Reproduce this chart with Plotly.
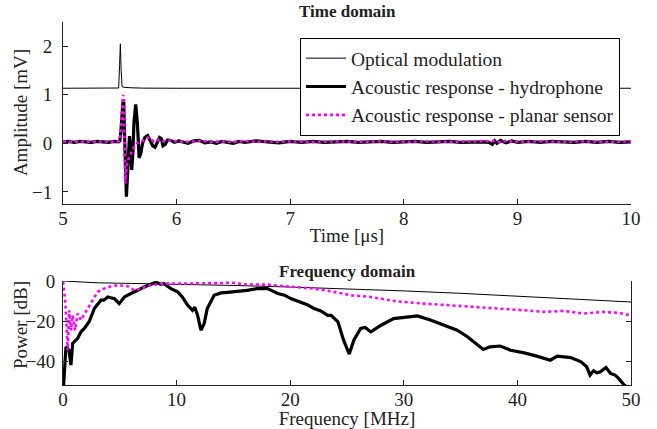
import plotly.graph_objects as go

# ---------------- Time domain data ----------------
t_optical = [5.0, 5.3, 5.48, 5.49, 5.498, 5.505, 5.512, 5.52, 5.535, 5.56, 5.6, 5.7, 6.0, 8.0, 10.0]
a_optical = [1.135, 1.135, 1.135, 1.14, 1.6, 2.05, 1.5, 1.17, 1.155, 1.15, 1.145, 1.138, 1.135, 1.135, 1.135]

t_hydro = [5.00, 5.05, 5.10, 5.15, 5.20, 5.25, 5.30, 5.35, 5.40, 5.45, 5.49,
           5.50, 5.51, 5.52, 5.53, 5.535, 5.54, 5.55, 5.558, 5.567, 5.575, 5.585,
           5.595, 5.605, 5.615, 5.625, 5.64, 5.655, 5.67, 5.685, 5.70, 5.72, 5.745,
           5.77, 5.79, 5.81, 5.83, 5.85, 5.865, 5.88, 5.90, 5.92, 5.95, 5.98, 6.02,
           6.06, 6.10, 6.15, 6.20, 6.25, 6.30, 6.35, 6.40, 6.45, 6.50, 6.55, 6.60,
           6.70, 6.80, 6.90, 7.00, 7.10, 7.20, 7.30, 7.40, 7.50, 7.60, 7.70, 7.80,
           7.90, 8.00, 8.10, 8.20, 8.30, 8.40, 8.50, 8.60, 8.70, 8.75, 8.78, 8.80,
           8.82, 8.85, 8.90, 8.95, 9.00, 9.10, 9.20, 9.30, 9.40, 9.50, 9.60, 9.70,
           9.80, 9.90, 10.00]
a_hydro = [0.03, 0.04, 0.02, 0.04, 0.03, 0.02, 0.04, 0.03, 0.02, 0.04, 0.03,
           0.05, 0.25, 0.60, 0.90, 0.85, 0.30, -0.70, -1.10, -0.70, -0.10, 0.15,
           -0.10, -0.55, -0.20, 0.45, 0.80, 0.40, -0.30, -0.20, 0.00, 0.12, 0.16,
           0.05, -0.05, -0.08, 0.02, 0.12, 0.10, -0.05, -0.02, 0.07, 0.06, 0.02, 0.05,
           0.03, 0.00, 0.05, 0.06, 0.01, 0.03, 0.00, 0.04, 0.02, 0.00, 0.04, 0.02,
           0.05, 0.03, 0.01, 0.04, 0.02, 0.04, 0.02, 0.03, 0.04, 0.02, 0.03, 0.04,
           0.02, 0.03, 0.04, 0.02, 0.03, 0.04, 0.02, 0.03, 0.03, 0.02, -0.02, 0.05,
           0.00, 0.06, 0.01, 0.05, 0.02, 0.04, 0.02, 0.04, 0.03, 0.02, 0.04, 0.02,
           0.04, 0.02, 0.03]

t_planar = [5.00, 5.05, 5.10, 5.15, 5.20, 5.25, 5.30, 5.35, 5.40, 5.45, 5.49,
            5.50, 5.51, 5.52, 5.53, 5.535, 5.54, 5.548, 5.555, 5.565, 5.58, 5.60,
            5.62, 5.65, 5.70, 5.75, 5.78, 5.80, 5.85, 5.90, 5.95, 6.00, 6.10, 6.20,
            6.30, 6.40, 6.50, 6.60, 6.70, 6.80, 6.90, 7.00, 7.20, 7.40, 7.60, 7.80,
            8.00, 8.20, 8.40, 8.60, 8.80, 8.85, 8.90, 9.00, 9.20, 9.40, 9.60, 9.80, 10.00]
a_planar = [0.04, 0.03, 0.04, 0.03, 0.04, 0.03, 0.04, 0.03, 0.04, 0.03, 0.04,
            0.05, 0.30, 0.70, 1.00, 0.80, 0.00, -0.83, -0.60, -0.40, -0.30, -0.20,
            -0.10, 0.00, 0.05, 0.12, 0.08, 0.03, 0.08, 0.04, 0.06, 0.04, 0.03, 0.05,
            0.03, 0.04, 0.03, 0.05, 0.03, 0.04, 0.03, 0.04, 0.03, 0.04, 0.03, 0.04,
            0.03, 0.04, 0.03, 0.04, 0.05, 0.02, 0.05, 0.03, 0.04, 0.03, 0.04, 0.03, 0.04]

# ---------------- Frequency domain data ----------------
f_optical = [0, 1, 3, 6, 10, 15, 20, 25, 30, 35, 40, 45, 50]
p_optical = [0.0, -0.3, -0.9, -1.2, -1.6, -2.2, -3.0, -3.9, -4.9, -6.1, -7.5, -8.9, -10.4]

f_hydro = [0.0, 0.06, 0.26, 0.53, 0.70, 0.85, 1.29, 1.6, 1.88, 2.1, 2.3, 2.76, 3.0, 3.34,
           3.6, 3.93, 4.2, 4.51, 4.95, 5.4, 5.98, 6.3, 6.57, 7.15, 7.74, 8.18, 8.6,
           8.9, 9.5, 10.1, 10.5, 10.97, 11.4, 11.6, 11.85, 12.14, 12.43, 12.7, 13.3,
           13.9, 14.5, 15.07, 15.6, 16.2, 17.1, 18.0, 18.9, 19.5, 20.05, 20.9, 21.5,
           22.1, 22.7, 23.3, 23.6, 24.2, 24.7, 25.2, 25.6, 26.2, 26.6, 27.1, 28.0,
           29.1, 30.3, 31.2, 32.4, 33.5, 34.7, 35.6, 36.5, 37.0, 37.6, 38.5, 39.4,
           40.6, 41.7, 42.9, 43.5, 44.7, 45.6, 46.1, 46.4, 46.7, 47.0, 47.3, 47.8,
           48.2, 48.6, 48.9, 49.4, 49.8]
p_hydro = [-55.0, -51.0, -32.6, -34.3, -41.6, -30.9, -28.4, -25.0, -23.5, -21.5, -20.2, -13.6, -12.0, -9.5,
           -9.5, -7.9, -8.3, -8.7, -11.2, -7.9, -6.2, -5.5, -4.6, -2.95, -1.8, -0.6, -1.6,
           -1.3, -3.8, -5.4, -7.9, -12.0, -14.5, -13.0, -17.0, -24.4, -21.0, -13.6, -7.1,
           -5.9, -5.6, -5.4, -5.0, -4.6, -3.8, -3.8, -6.2, -7.0, -8.7, -10.4, -11.8,
           -13.6, -14.8, -17.0, -17.0, -20.2, -29.3, -36.2, -29.3, -23.5, -23.0, -25.2, -21.9,
           -18.6, -17.8, -17.3, -19.4, -21.9, -24.4, -27.6, -31.8, -33.9, -32.6, -32.2, -34.3,
           -35.6, -37.2, -39.2, -37.2, -37.9, -40.0, -42.5, -46.6, -44.5, -45.5, -45.0, -42.8,
           -45.8, -46.6, -48.2, -51.5, -53.0]

f_planar = [0.0, 0.2, 0.41, 0.55, 0.70, 0.85, 1.06, 1.29, 1.58, 2.02, 2.46, 3.04, 3.5, 3.93,
            4.8, 5.7, 6.27, 6.86, 7.7, 8.9, 10.4, 12.1, 13.9, 14.8, 16.2, 18.0, 20.0,
            22.1, 23.6, 25.4, 27.1, 29.4, 31.8, 34.1, 36.5, 38.2, 40.6, 42.3, 44.1,
            45.8, 47.6, 49.0, 49.9]
p_planar = [-0.4, -10.0, -34.3, -14.5, -24.4, -17.0, -24.4, -16.1, -19.4, -15.3, -11.2, -5.4, -4.0, -3.0,
            -2.1, -2.6, -4.6, -3.8, -2.1, -1.3, -1.3, -1.3, -1.0, -0.8, -1.8, -1.8, -2.6,
            -3.8, -5.1, -7.1, -7.9, -10.1, -11.2, -12.0, -12.8, -13.6, -14.5, -15.3, -14.8,
            -16.1, -15.3, -15.8, -17.0]

# ---------------- Labels ----------------
legend_names = ["Optical modulation", "Acoustic response - hydrophone",
                "Acoustic response - planar sensor"]
time_ticks = [5, 6, 7, 8, 9, 10]
amp_ticks = [-1, 0, 1, 2]
freq_ticks = [0, 10, 20, 30, 40, 50]
power_ticks = [-40, -20, 0]

FONT = "Liberation Serif, DejaVu Serif, serif"
MAGENTA = "#ff00ff"
TXT = "#222222"

fig = go.Figure()

fig.add_trace(go.Scatter(x=t_optical, y=a_optical, mode="lines", name=legend_names[0],
                         line=dict(color="black", width=1), xaxis="x", yaxis="y"))
fig.add_trace(go.Scatter(x=t_hydro, y=a_hydro, mode="lines", name=legend_names[1],
                         line=dict(color="black", width=3.2), xaxis="x", yaxis="y"))
fig.add_trace(go.Scatter(x=t_planar, y=a_planar, mode="lines", name=legend_names[2],
                         line=dict(color=MAGENTA, width=2.6, dash="dot"), xaxis="x", yaxis="y"))

fig.add_trace(go.Scatter(x=f_optical, y=p_optical, mode="lines", showlegend=False,
                         line=dict(color="black", width=1), xaxis="x2", yaxis="y2"))
fig.add_trace(go.Scatter(x=f_hydro, y=p_hydro, mode="lines", showlegend=False,
                         line=dict(color="black", width=3.2), xaxis="x2", yaxis="y2"))
fig.add_trace(go.Scatter(x=f_planar, y=p_planar, mode="lines", showlegend=False,
                         line=dict(color=MAGENTA, width=2.6, dash="dot"), xaxis="x2", yaxis="y2"))

axis_common = dict(showgrid=False, zeroline=False, showline=True, linecolor=TXT,
                   linewidth=1, ticks="inside", ticklen=5, tickcolor=TXT, automargin=False,
                   tickfont=dict(family=FONT, size=19, color=TXT))

fig.update_layout(
    width=657, height=429,
    margin=dict(l=63, r=26, t=22, b=44),
    paper_bgcolor="white", plot_bgcolor="white",
    font=dict(family=FONT, size=18, color=TXT),
    xaxis=dict(domain=[0, 1], anchor="y", range=[5, 10], tickvals=time_ticks,
               ticklabelstandoff=-3,
               title=dict(text="Time [μs]", standoff=0, font=dict(family=FONT, size=19)),
               **axis_common),
    yaxis=dict(domain=[0.4986, 1], anchor="x", range=[-1.25, 2.5], tickvals=amp_ticks,
               ticklabelstandoff=6, **axis_common),
    xaxis2=dict(domain=[0, 1], anchor="y2", range=[0, 50], tickvals=freq_ticks,
                ticklabelstandoff=-3,
                title=dict(text="Frequency [MHz]", standoff=0, font=dict(family=FONT, size=19)),
                **axis_common),
    yaxis2=dict(domain=[0, 0.2865], anchor="x2", range=[-51.5, 0], tickvals=power_ticks,
                mirror="ticks", ticklabelstandoff=3, **axis_common),
    legend=dict(x=0.9806, y=0.956, xanchor="right", yanchor="top",
                bgcolor="white", bordercolor="black", borderwidth=1,
                font=dict(family=FONT, size=19.5, color=TXT),
                tracegroupgap=0, itemwidth=40),
    showlegend=True,
    annotations=[
        dict(text="<b>Time domain</b>", x=0.5, y=1.0303, xref="paper", yref="paper",
             xanchor="center", yanchor="middle", showarrow=False,
             font=dict(family=FONT, size=17, color=TXT)),
        dict(text="<b>Frequency domain</b>", x=0.5, y=0.3127, xref="paper", yref="paper",
             xanchor="center", yanchor="middle", showarrow=False,
             font=dict(family=FONT, size=17, color=TXT)),
        dict(text="Amplitude [mV]", x=-0.0757, y=0.749, xref="paper", yref="paper",
             xanchor="center", yanchor="middle", textangle=-90, showarrow=False,
             font=dict(family=FONT, size=19, color=TXT)),
        dict(text="Power [dB]", x=-0.0757, y=0.165, xref="paper", yref="paper",
             xanchor="center", yanchor="middle", textangle=-90, showarrow=False,
             font=dict(family=FONT, size=19, color=TXT)),
    ],
)

# remove the browser's default page margin so the 657x429 figure fills the window exactly
fig.write_html("out.html", config={"displayModeBar": False},
               post_script="document.body.style.margin='0px';")
